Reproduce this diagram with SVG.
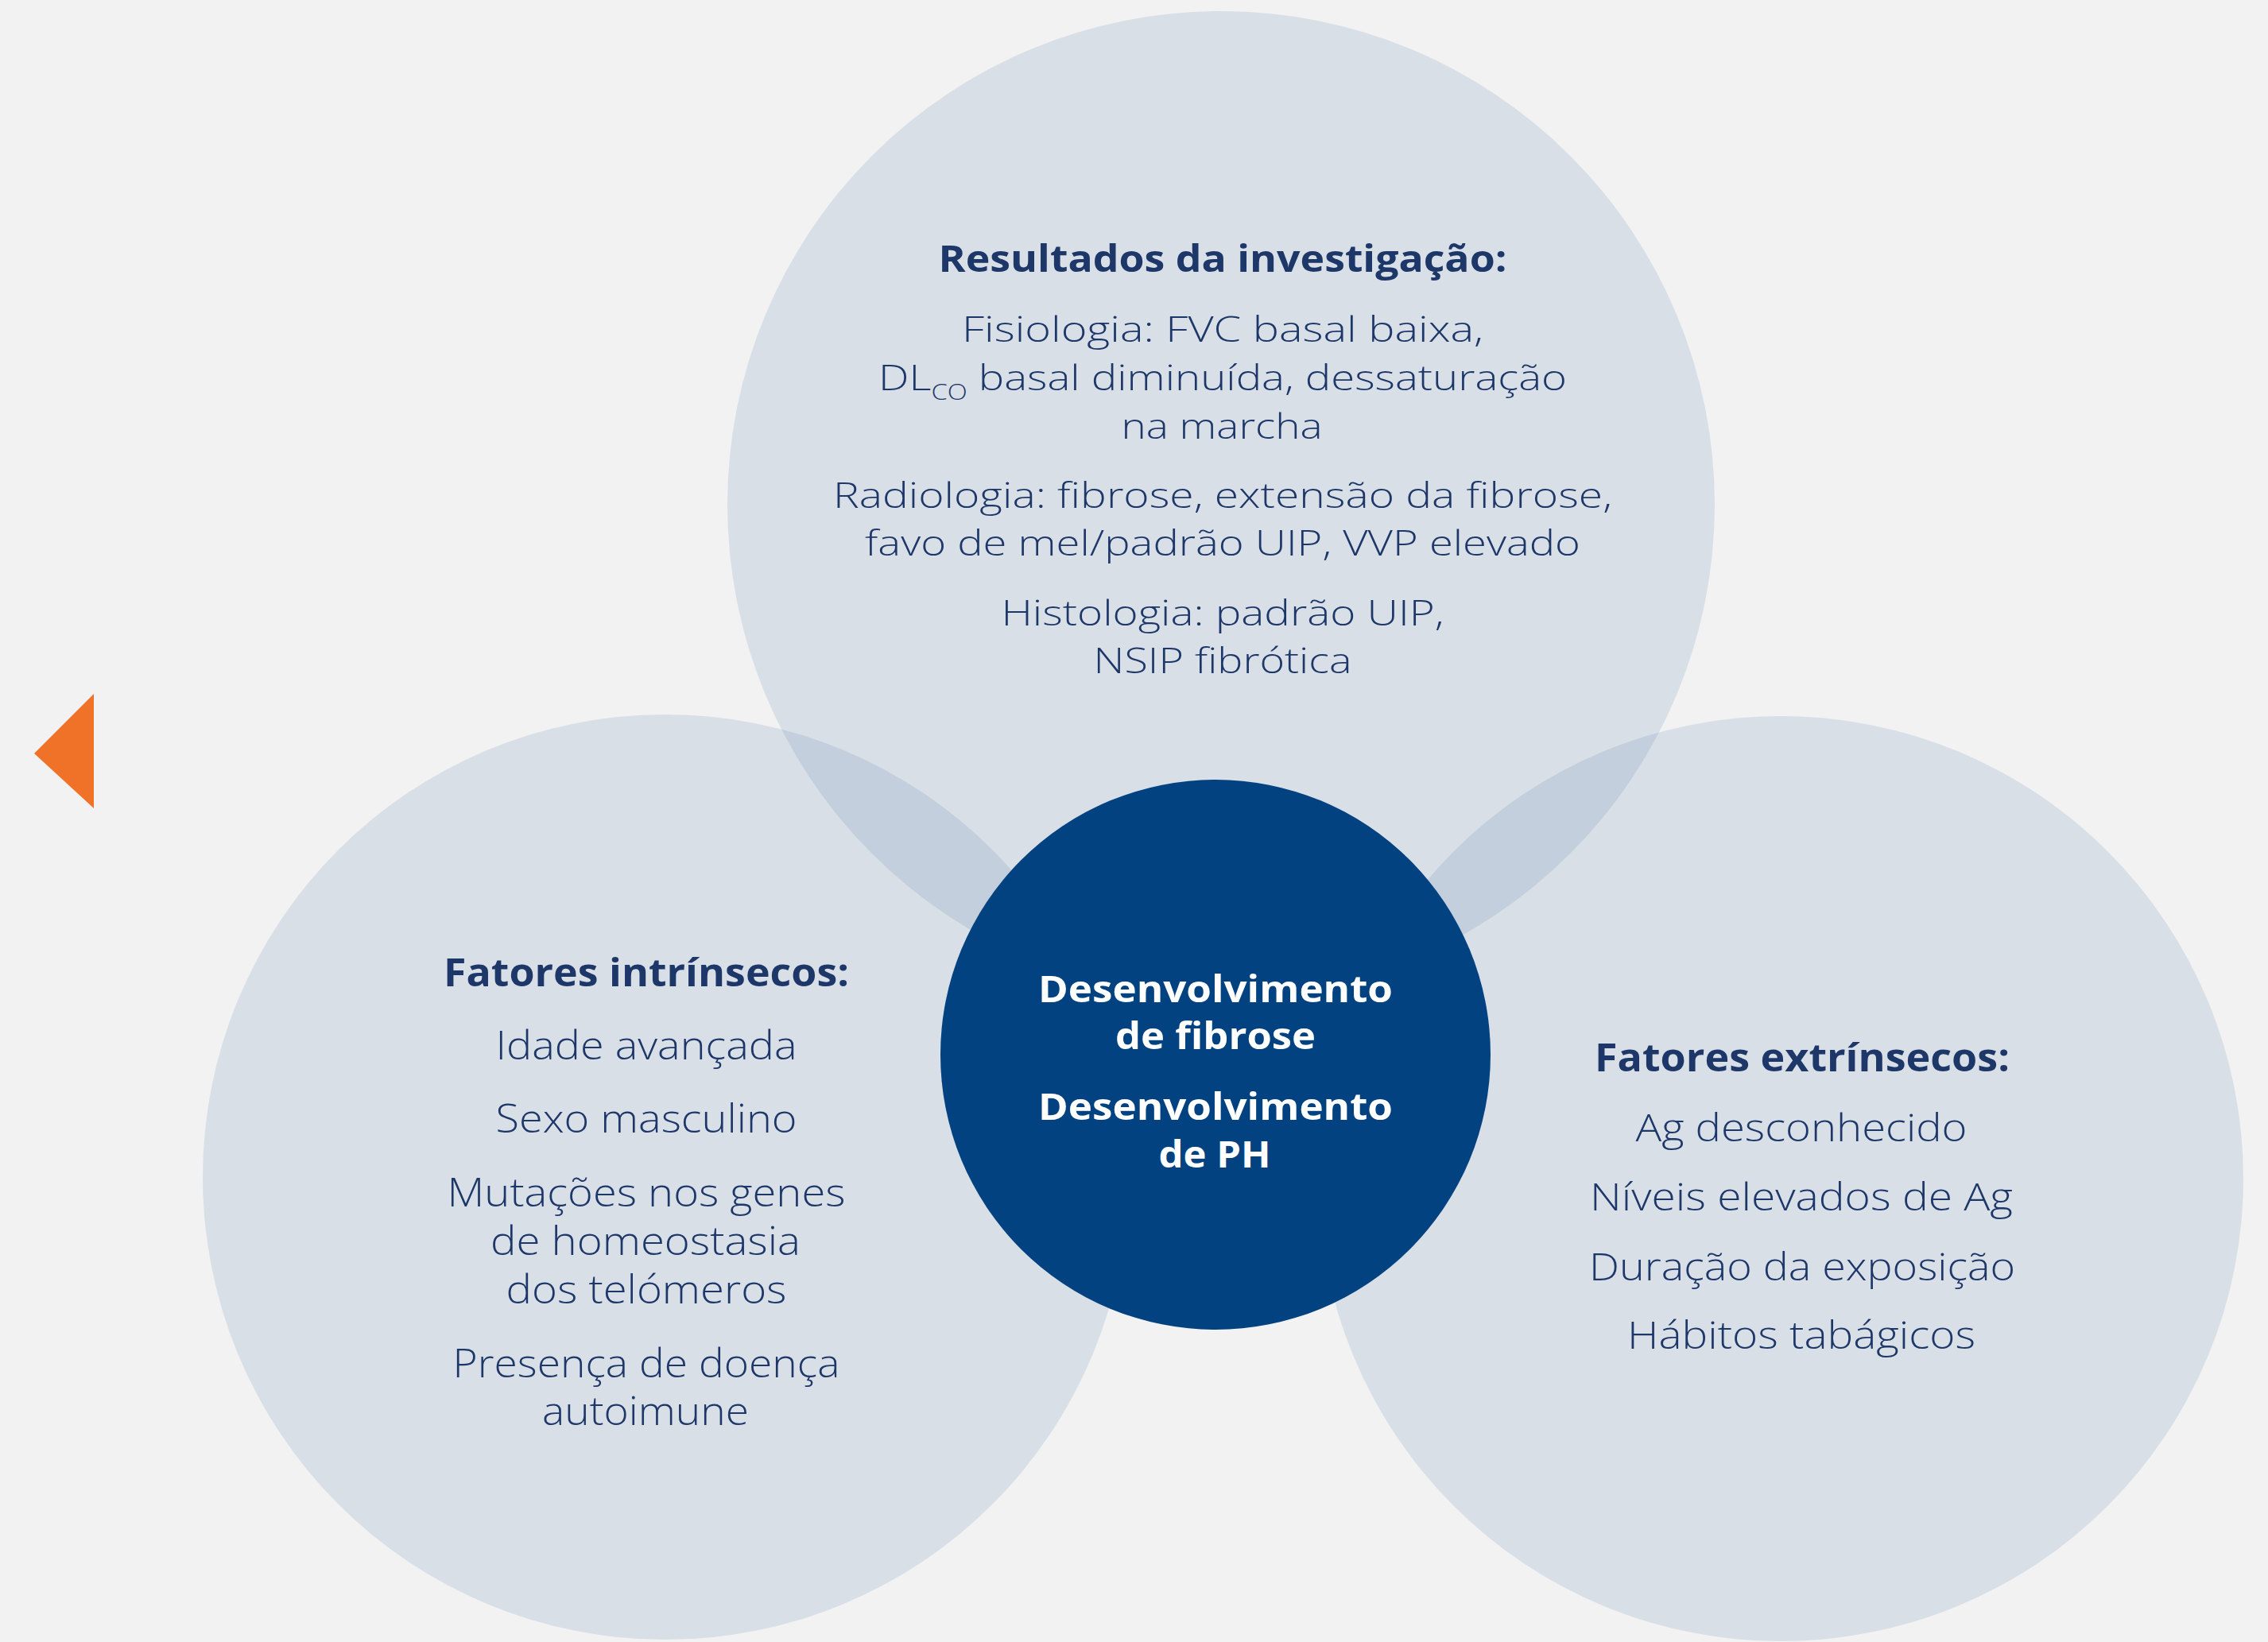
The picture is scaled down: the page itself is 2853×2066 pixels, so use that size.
<svg xmlns="http://www.w3.org/2000/svg" width="2853" height="2066" viewBox="0 0 2853 2066">
  <style>
    .bg { fill: #f2f2f2; }
    .petal { fill: #d8dfe7; }
    .overlap { fill: #c3cfdd; }
    .core { fill: #024281; }
    text { font-family: "Open Sans", Lato, sans-serif; text-anchor: middle; }
    .head { font-weight: 700; fill: #1e3769; }
    .body { font-weight: 300; fill: #1e3769; }
    .core-text { font-weight: 700; fill: #ffffff; }
  </style>
  <defs>
    <clipPath id="clip-left"><circle cx="837" cy="1481" r="582"/></clipPath>
    <clipPath id="clip-right"><circle cx="2240" cy="1483" r="582"/></clipPath>
  </defs>

  <rect class="bg" x="0" y="0" width="2853" height="2066"/>

  <!-- back arrow -->
  <polygon points="43,948 118,873 118,1017" fill="#f07228"/>

  <!-- outer circles -->
  <g id="node-investigation">
    <circle class="petal" cx="1536" cy="635" r="621"/>
  </g>
  <g id="node-intrinsic">
    <circle class="petal" cx="837" cy="1481" r="582"/>
  </g>
  <g id="node-extrinsic">
    <circle class="petal" cx="2240" cy="1483" r="582"/>
  </g>

  <!-- lens-shaped overlaps -->
  <g id="overlaps">
    <circle class="overlap" cx="1536" cy="635" r="621" clip-path="url(#clip-left)"/>
    <circle class="overlap" cx="1536" cy="635" r="621" clip-path="url(#clip-right)"/>
  </g>

  <!-- top circle text -->
  <g id="text-investigation">
    <text class="head" x="1538" y="342" font-size="46" textLength="715" lengthAdjust="spacingAndGlyphs">Resultados da investigação:</text>
    <text class="body" x="1538" y="430" font-size="45" textLength="656" lengthAdjust="spacingAndGlyphs">Fisiologia: FVC basal baixa,</text>
    <text class="body" x="1538" y="491" font-size="45" textLength="866" lengthAdjust="spacingAndGlyphs">DL<tspan font-size="27" dy="12">CO</tspan><tspan dy="-12"> basal diminuída, dessaturação</tspan></text>
    <text class="body" x="1537" y="552" font-size="45" textLength="253" lengthAdjust="spacingAndGlyphs">na marcha</text>
    <text class="body" x="1538" y="639" font-size="45" textLength="980" lengthAdjust="spacingAndGlyphs">Radiologia: fibrose, extensão da fibrose,</text>
    <text class="body" x="1538" y="699" font-size="45" textLength="900" lengthAdjust="spacingAndGlyphs">favo de mel/padrão UIP, VVP elevado</text>
    <text class="body" x="1538" y="787" font-size="45" textLength="557" lengthAdjust="spacingAndGlyphs">Histologia: padrão UIP,</text>
    <text class="body" x="1538" y="847" font-size="45" textLength="325" lengthAdjust="spacingAndGlyphs">NSIP fibrótica</text>
  </g>

  <!-- left circle text -->
  <g id="text-intrinsic">
    <text class="head" x="813" y="1241" font-size="48" textLength="510" lengthAdjust="spacingAndGlyphs">Fatores intrínsecos:</text>
    <text class="body" x="813" y="1333" font-size="49" textLength="379" lengthAdjust="spacingAndGlyphs">Idade avançada</text>
    <text class="body" x="813" y="1425" font-size="49" textLength="379" lengthAdjust="spacingAndGlyphs">Sexo masculino</text>
    <text class="body" x="813" y="1518" font-size="49" textLength="501" lengthAdjust="spacingAndGlyphs">Mutações nos genes</text>
    <text class="body" x="812" y="1579" font-size="49" textLength="390" lengthAdjust="spacingAndGlyphs">de homeostasia</text>
    <text class="body" x="813" y="1640" font-size="49" textLength="353" lengthAdjust="spacingAndGlyphs">dos telómeros</text>
    <text class="body" x="813" y="1733" font-size="49" textLength="487" lengthAdjust="spacingAndGlyphs">Presença de doença</text>
    <text class="body" x="812" y="1793" font-size="49" textLength="260" lengthAdjust="spacingAndGlyphs">autoimune</text>
  </g>

  <!-- right circle text -->
  <g id="text-extrinsic">
    <text class="head" x="2267" y="1348" font-size="48" textLength="522" lengthAdjust="spacingAndGlyphs">Fatores extrínsecos:</text>
    <text class="body" x="2266" y="1436" font-size="48" textLength="417" lengthAdjust="spacingAndGlyphs">Ag desconhecido</text>
    <text class="body" x="2266" y="1523" font-size="48" textLength="532" lengthAdjust="spacingAndGlyphs">Níveis elevados de Ag</text>
    <text class="body" x="2267" y="1611" font-size="48" textLength="536" lengthAdjust="spacingAndGlyphs">Duração da exposição</text>
    <text class="body" x="2266" y="1697" font-size="48" textLength="438" lengthAdjust="spacingAndGlyphs">Hábitos tabágicos</text>
  </g>

  <!-- centre circle -->
  <g id="node-core">
    <circle class="core" cx="1529" cy="1327" r="346"/>
    <text class="core-text" x="1529" y="1261" font-size="46" textLength="446" lengthAdjust="spacingAndGlyphs">Desenvolvimento</text>
    <text class="core-text" x="1529" y="1320" font-size="46" textLength="252" lengthAdjust="spacingAndGlyphs">de fibrose</text>
    <text class="core-text" x="1529" y="1409" font-size="46" textLength="446" lengthAdjust="spacingAndGlyphs">Desenvolvimento</text>
    <text class="core-text" x="1528" y="1469" font-size="46" textLength="141" lengthAdjust="spacingAndGlyphs">de PH</text>
  </g>

  <g id="connectors"></g>
</svg>
